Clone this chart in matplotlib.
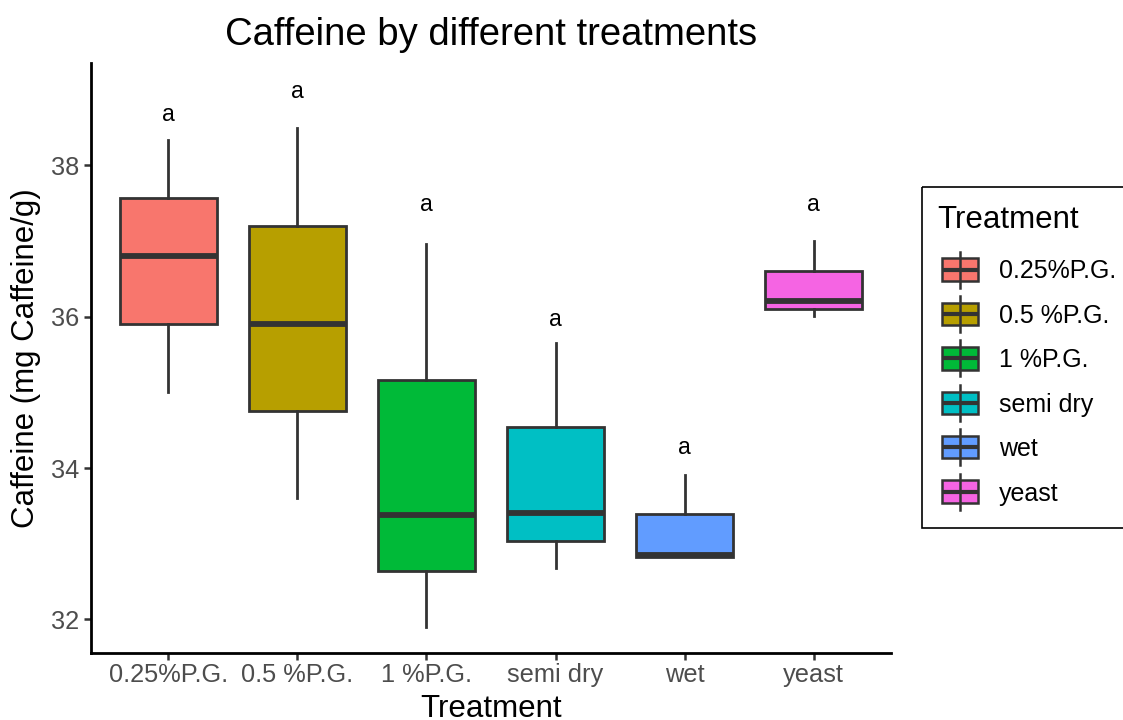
import numpy as np
import matplotlib.pyplot as plt
from matplotlib.patches import Rectangle
from matplotlib.lines import Line2D

plt.rcParams['font.family'] = ['Liberation Sans', 'DejaVu Sans']

# caffeine content per treatment (five-number summaries)
treatments = ['0.25%P.G.', '0.5 %P.G.', '1 %P.G.', 'semi dry', 'wet', 'yeast']
colors = ['#F8766D', '#B79F00', '#00BA38', '#00BFC4', '#619CFF', '#F564E3']

whislo = [35.00, 33.61, 31.90, 32.68, 32.83, 36.01]
q1 = [35.90, 34.76, 32.64, 33.04, 32.83, 36.10]
med = [36.80, 35.90, 33.38, 33.41, 32.85, 36.21]
q3 = [37.57, 37.20, 35.16, 34.54, 33.39, 36.60]
whishi = [38.33, 38.49, 36.96, 35.65, 33.91, 37.00]

# Tukey letters above each box
letters = ['a', 'a', 'a', 'a', 'a', 'a']
letter_y = [38.58, 38.89, 37.39, 35.88, 34.18, 37.39]

W, H = 1123, 720
EDGE = '#333333'

fig = plt.figure(figsize=(W / 100, H / 100), dpi=100)
ax = fig.add_axes([91 / W, 1 - 653 / H, 800 / W, 590 / H])

stats = []
for t, lo, a, m, b, hi in zip(treatments, whislo, q1, med, q3, whishi):
    stats.append(dict(label=t, whislo=lo, q1=a, med=m, q3=b, whishi=hi))

pos = np.arange(1, len(treatments) + 1)
bp = ax.bxp(stats, positions=pos, widths=0.75, patch_artist=True,
            showcaps=False, showfliers=False,
            boxprops=dict(edgecolor=EDGE, linewidth=2.0),
            whiskerprops=dict(color=EDGE, linewidth=2.0),
            medianprops=dict(color=EDGE, linewidth=4.2, solid_capstyle='butt'))
for patch, c in zip(bp['boxes'], colors):
    patch.set_facecolor(c)

for x, lab, y in zip(pos, letters, letter_y):
    ax.text(x, y, lab, ha='center', va='baseline', fontsize=16.5)

ax.set_xlim(0.4, 6.6)
ax.set_ylim(31.557, 39.35)
ax.set_xticks(pos, treatments)
ax.set_yticks([32, 34, 36, 38])
ax.tick_params(length=4.7, width=1.8, color=EDGE, labelcolor='#4D4D4D',
               labelsize=18.3)
ax.tick_params(axis='x', pad=2.5)
ax.tick_params(axis='y', pad=4)

for side in ['top', 'right']:
    ax.spines[side].set_visible(False)
for side in ['left', 'bottom']:
    ax.spines[side].set_linewidth(2.0)
    ax.spines[side].set_color('black')

ax.set_xlabel('Treatment', fontsize=22.5, va='baseline')
ax.xaxis.set_label_coords(0.5, (653 - 717) / 590)
ax.set_ylabel('Caffeine (mg Caffeine/g)', fontsize=22.5, va='center')
ax.yaxis.set_label_coords((26 - 91) / 800, 0.5)

fig.text(491.5 / W, 1 - 45 / H, 'Caffeine by different treatments',
         ha='center', va='baseline', fontsize=27.5)

# legend drawn in pixel coordinates on an overlay axes
lax = fig.add_axes([0, 0, 1, 1])
lax.set_xlim(0, W)
lax.set_ylim(H, 0)
lax.axis('off')

lax.add_patch(Rectangle((922, 187), 260, 341, fill=False,
                        edgecolor='black', linewidth=1.2))
lax.text(937, 228, 'Treatment', fontsize=22.5, va='baseline')
for i, (t, c) in enumerate(zip(treatments, colors)):
    cy = 269.5 + 44.4 * i
    lax.add_line(Line2D([960, 960], [cy - 18, cy + 18], color=EDGE, lw=1.8))
    lax.add_patch(Rectangle((942, cy - 11.2), 36, 22.4, facecolor=c,
                            edgecolor=EDGE, linewidth=1.8))
    lax.add_line(Line2D([942, 978], [cy, cy], color=EDGE, lw=3.0,
                        solid_capstyle='butt'))
    lax.text(999, cy + 9, t, fontsize=18, va='baseline')

fig.savefig('out.png', dpi=100)
